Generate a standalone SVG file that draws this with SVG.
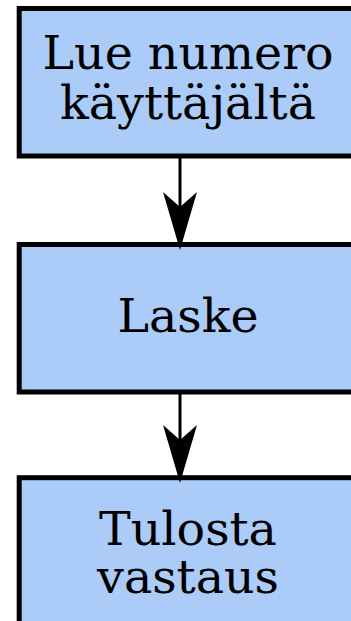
<svg xmlns="http://www.w3.org/2000/svg" width="351" height="621" viewBox="0 0 351 621">
  <style>
    .box { fill: #abcbf8; stroke: #000; stroke-width: 5; }
    .label { font-family: "DejaVu Serif", "Liberation Serif", serif; font-size: 47.5px; fill: #000; text-anchor: middle; }
    .edge { stroke: #000; stroke-width: 3; fill: none; }
    .head { fill: #000; stroke: none; }
  </style>
  <rect width="351" height="621" fill="#ffffff"/>

  <g id="node-read">
    <rect class="box" x="19.2" y="8.5" width="337" height="147.5"/>
    <text class="label" x="188" y="69">Lue numero</text>
    <text class="label" x="188" y="118.5">käyttäjältä</text>
  </g>

  <g id="node-compute">
    <rect class="box" x="19.2" y="244.5" width="337" height="147.5"/>
    <text class="label" x="188" y="332">Laske</text>
  </g>

  <g id="node-print">
    <rect class="box" x="19.2" y="477.7" width="337" height="160"/>
    <text class="label" x="188" y="545">Tulosta</text>
    <text class="label" x="188" y="593">vastaus</text>
  </g>

  <g id="connectors">
    <line class="edge" x1="180" y1="157" x2="180" y2="212"/>
    <path class="head" d="M180,250 L163,192 L180,207 L197,192 Z"/>
    <line class="edge" x1="180" y1="393" x2="180" y2="442"/>
    <path class="head" d="M180,483 L163,425 L180,440 L197,425 Z"/>
  </g>
</svg>
